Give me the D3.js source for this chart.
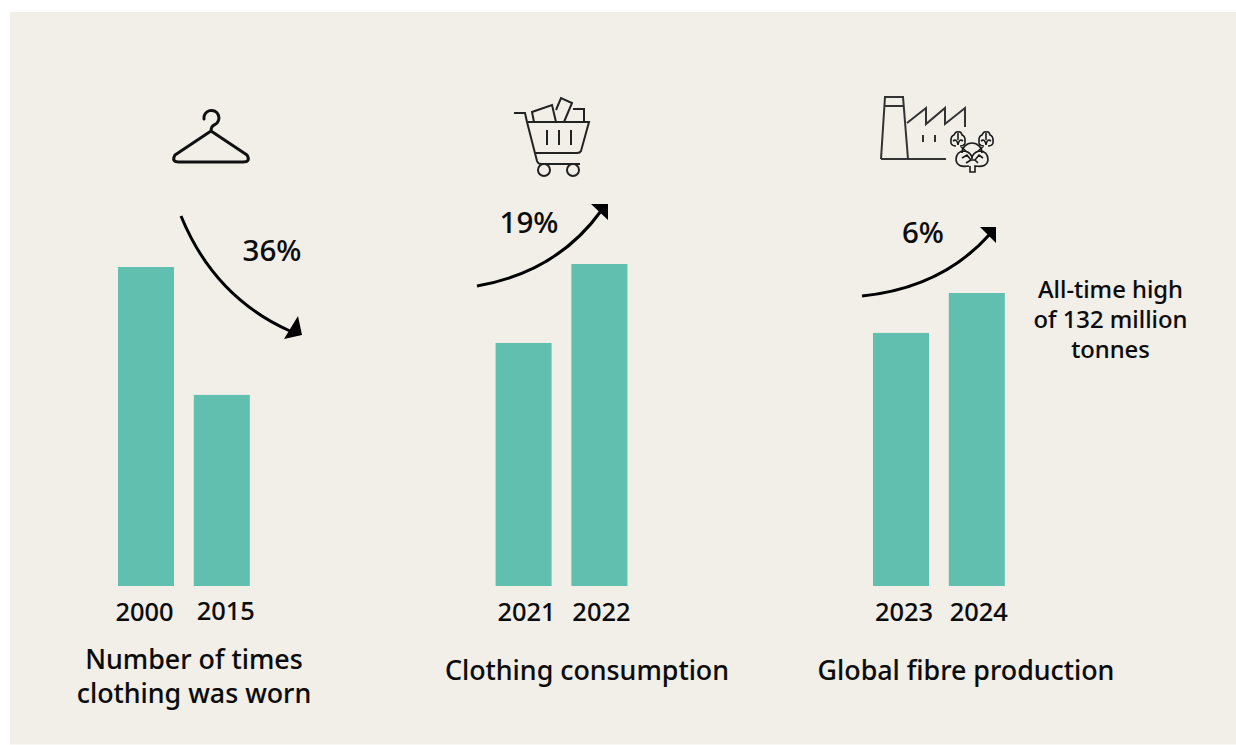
<!DOCTYPE html>
<html>
<head>
<meta charset="utf-8">
<script src="https://cdn.jsdelivr.net/npm/d3@7/dist/d3.min.js"></script>
<style>
html,body{margin:0;padding:0;background:#fff}
svg{display:block}
text{font-family:"Noto Sans",sans-serif;font-weight:500;fill:#0b0b0b;stroke:#0b0b0b;stroke-width:0.1px}
</style>
</head>
<body>
<svg id="chart" width="1236" height="745"></svg>
<script>
// Bar values for each small multiple (first and second panels are indexed, third is in million tonnes)
const wornYears = ["2000", "2015"];
const wornValues = [100, 59.9];
const consumptionYears = ["2021", "2022"];
const consumptionValues = [100, 132.5];
const fibreYears = ["2023", "2024"];
const fibreValues = [114, 132];

const panelTitles = [["Number of times", "clothing was worn"], ["Clothing consumption"], ["Global fibre production"]];
const changeLabels = ["36%", "19%", "6%"];
const noteLines = ["All-time high", "of 132 million", "tonnes"];

const BAR = "#61bfb0", BG = "#f1efe8", ICON = "#333333";
const baseline = 586, barWidth = 56, barGap = 19.8;

const svg = d3.select("#chart");
svg.append("rect").attr("x", 10).attr("y", 12).attr("width", 1226).attr("height", 732.5).attr("fill", BG);

const panels = [
  { years: wornYears, values: wornValues, left: 118, top: 267, max: 100, labelShift: [-1.5, 4], labelY: [612, 611],
    title: panelTitles[0], titleX: 194, titleY: [669, 703],
    change: changeLabels[0], changeX: 272, changeY: 261,
    arrow: "M181,216Q214,297 290,331", head: "M298,316L302,335L284,339Z" },
  { years: consumptionYears, values: consumptionValues, left: 495.6, top: 264, max: 132.5, labelShift: [3, 2], labelY: [612, 612],
    title: panelTitles[1], titleX: 587, titleY: [680],
    change: changeLabels[1], changeX: 529, changeY: 233,
    arrow: "M477,286Q557,272 601,211", head: "M591,204L608,204L608,220Z" },
  { years: fibreYears, values: fibreValues, left: 873, top: 293, max: 132, labelShift: [3, 2], labelY: [612, 612],
    title: panelTitles[2], titleX: 966, titleY: [680],
    change: changeLabels[2], changeX: 923, changeY: 243,
    arrow: "M862,296Q942,288 990,234", head: "M980,227L996,227L996,243Z" }
];

panels.forEach(p => {
  const x = d3.scaleBand().domain(p.years)
    .range([p.left, p.left + 2 * barWidth + barGap])
    .paddingInner(barGap / (barWidth + barGap)).paddingOuter(0);
  const y = d3.scaleLinear().domain([0, p.max]).range([baseline, p.top]);
  const g = svg.append("g");

  g.selectAll("rect").data(p.years).join("rect")
    .attr("x", d => x(d)).attr("width", x.bandwidth())
    .attr("y", (d, i) => y(p.values[i]))
    .attr("height", (d, i) => baseline - y(p.values[i]))
    .attr("fill", BAR);

  // Year labels come from a bottom axis with its line and tick marks removed
  const axis = g.append("g").attr("transform", `translate(0,${baseline})`)
    .call(d3.axisBottom(x).tickSize(0).tickPadding(0));
  axis.select(".domain").remove();
  axis.selectAll("text")
    .attr("font-size", 25.4)
    .attr("x", (d, i) => p.labelShift[i]).attr("dy", null)
    .attr("y", (d, i) => p.labelY[i] + 9 - baseline);
  axis.attr("font-family", null).attr("font-size", null);

  g.selectAll("text.title").data(p.title).join("text").attr("class", "title")
    .attr("x", p.titleX).attr("y", (d, i) => p.titleY[i])
    .attr("text-anchor", "middle").attr("font-size", 26.8).text(d => d);

  g.append("text").attr("x", p.changeX).attr("y", p.changeY)
    .attr("text-anchor", "middle").attr("font-size", 29.5).text(p.change);

  g.append("path").attr("d", p.arrow).attr("fill", "none").attr("stroke", "#000").attr("stroke-width", 3);
  g.append("path").attr("d", p.head).attr("fill", "#000");
});

// Note beside the 2024 bar
svg.selectAll("text.note").data(noteLines).join("text").attr("class", "note")
  .attr("x", 1110.5).attr("y", (d, i) => 298 + i * 30)
  .attr("text-anchor", "middle").attr("font-size", 23.8).text(d => d);

// Hanger icon
svg.append("path").attr("fill", "none").attr("stroke", "#111").attr("stroke-width", 3)
  .attr("stroke-linejoin", "round").attr("stroke-linecap", "round")
  .attr("d", "M204,119A7.5,7.5 0 1 1 215,124.5Q211,126 211,131L175,155Q171,162 179,162H243Q251,162 247,155L211,131");

// Shopping cart icon
const cart = svg.append("g").attr("fill", "none").attr("stroke", "#222").attr("stroke-width", 2);
cart.append("path").attr("d", "M514,113H525L527,122L537,161Q538,164 541,164H580M527,122H589L581,151Q580,153 577,153H535");
cart.append("path").attr("d", "M534,122L532,112L552,105L556,122M556,110L561,98L572,103L564,122M573,109H584V122");
cart.append("path").attr("d", "M547,130V145M559,130V145M571,130V145");
cart.append("circle").attr("cx", 544).attr("cy", 170).attr("r", 6);
cart.append("circle").attr("cx", 573).attr("cy", 170).attr("r", 6);

// Factory with cotton plants icon
const factory = svg.append("g").attr("fill", "none").attr("stroke", ICON).attr("stroke-width", 2);
factory.append("path").attr("d", "M881,159L885,97H903L908,159M885,106H904M881,159H946");
factory.append("path").attr("d", "M907,123L926,108V124L945,108V124L965,108V127");
factory.append("path").attr("d", "M923,135V142M935,135V142");

const cotton = svg.append("g").attr("fill", "none").attr("stroke", "#1a1a1a").attr("stroke-width", 1.6);
[[958, 139], [986, 139]].forEach(([cx, cy]) => {
  cotton.append("path").attr("d", `M${cx - 2},${cy + 7}Q${cx - 8},${cy + 7} ${cx - 7},${cy + 1}Q${cx - 7},${cy - 3} ${cx - 4},${cy - 4}Q${cx - 2},${cy - 8} ${cx},${cy - 7}Q${cx + 3},${cy - 8} ${cx + 4},${cy - 4}Q${cx + 7},${cy - 3} ${cx + 7},${cy + 1}Q${cx + 8},${cy + 7} ${cx + 2},${cy + 7}`);
  cotton.append("path").attr("d", `M${cx - 5},${cy + 2}Q${cx - 1},${cy - 1} ${cx},${cy + 6}Q${cx + 1},${cy - 1} ${cx + 5},${cy + 2}M${cx},${cy - 6}V${cy + 1}`);
});
cotton.append("path").attr("d", "M961,147L966,151M983,147L978,151");
cotton.append("path").attr("d", "M962,153A10,10 0 0 1 982,153");
cotton.append("path").attr("d", "M969,166Q957,168 956,160Q956,151 965,151Q972,153 972,159Q972,153 979,151Q988,151 988,160Q987,168 975,166V172H970V166");
cotton.append("path").attr("d", "M962,158L967,155L971,160L975,160L979,155L983,158M966,163L971,160M978,163L975,160");
</script>
</body>
</html>
